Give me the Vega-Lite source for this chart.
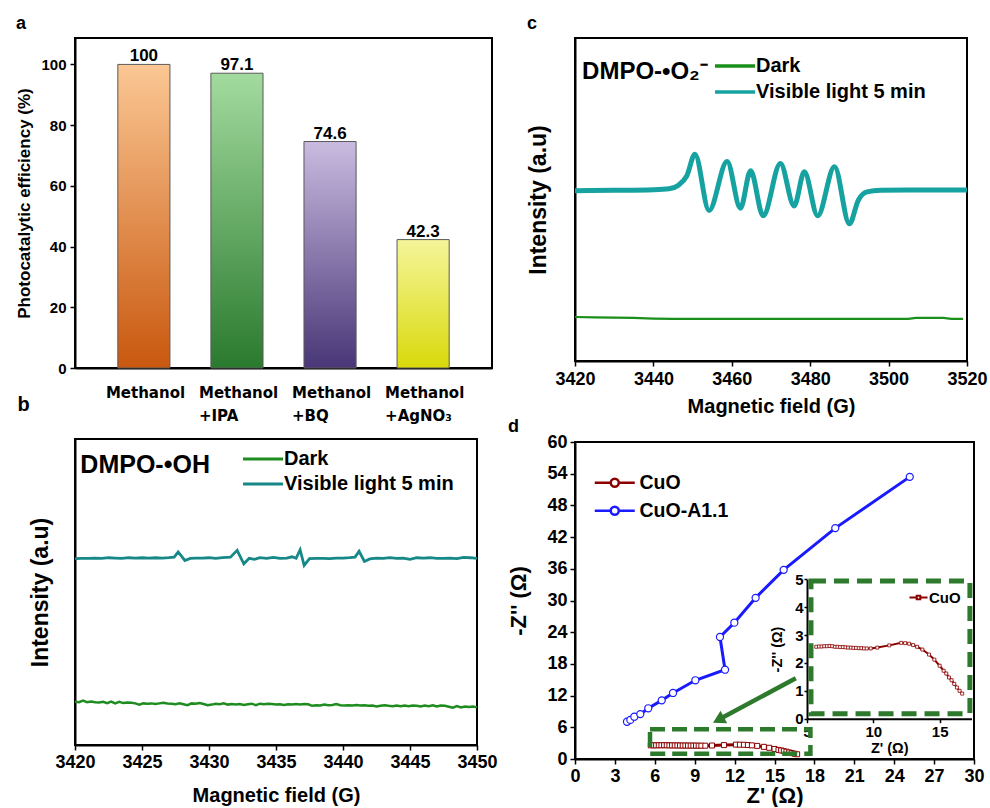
{
  "$schema": "https://vega.github.io/schema/vega-lite/v6.json",
  "background": "white",
  "padding": {"left": 14, "top": 14, "right": 2, "bottom": 0},
  "config": {
    "view": {"stroke": "black", "strokeWidth": 2},
    "font": "Liberation Sans",
    "axis": {"grid": false, "domainColor": "black", "domainWidth": 2, "tickColor": "black", "tickWidth": 1.5, "tickSize": 5, "labelColor": "black", "titleColor": "black", "labelFont": "Liberation Sans", "titleFont": "Liberation Sans", "labelFontWeight": "bold", "titleFontWeight": "bold", "labelFontSize": 18, "titleFontSize": 20, "labelOverlap": false, "labelFlush": false},
    "axisQuantitative": {"labelOverlap": false},
    "legend": {"labelFont": "Liberation Sans", "labelColor": "black", "labelFontWeight": "bold"},
    "title": {"fontSize": 18, "fontWeight": "bold", "anchor": "start", "frame": "bounds", "color": "black", "font": "Liberation Sans"}
  },
  "datasets": {
    "bar": [
      {"cat": "Methanol", "v": 100, "lab": "100"},
      {"cat": "Methanol|+IPA", "v": 97.1, "lab": "97.1"},
      {"cat": "Methanol|+BQ", "v": 74.6, "lab": "74.6"},
      {"cat": "Methanol|+AgNO₃", "v": 42.3, "lab": "42.3"}
    ],
    "bteal": [
      {"f":3420,"v":60.9},{"f":3420.5,"v":61.0},{"f":3421,"v":61.0},{"f":3421.5,"v":61.1},{"f":3422,"v":61.0},{"f":3422.5,"v":61.2},{"f":3423,"v":61.1},{"f":3423.5,"v":61.0},{"f":3424,"v":61.2},{"f":3424.5,"v":61.1},{"f":3425,"v":61.2},{"f":3425.5,"v":61.1},{"f":3426,"v":61.2},{"f":3426.5,"v":61.1},{"f":3427,"v":61.2},{"f":3427.4,"v":61.4},{"f":3427.7,"v":63.1},{"f":3428.2,"v":60.3},{"f":3428.6,"v":61.0},{"f":3429,"v":61.1},{"f":3429.5,"v":61.1},{"f":3430,"v":61.2},{"f":3430.5,"v":61.0},{"f":3431,"v":61.2},{"f":3431.6,"v":61.4},{"f":3432.1,"v":63.6},{"f":3432.6,"v":59.2},{"f":3433,"v":61.0},{"f":3433.4,"v":60.7},{"f":3433.8,"v":61.2},{"f":3434.3,"v":61.0},{"f":3434.8,"v":61.3},{"f":3435.3,"v":61.0},{"f":3435.8,"v":61.1},{"f":3436.2,"v":61.5},{"f":3436.5,"v":61.0},{"f":3436.8,"v":63.8},{"f":3437.1,"v":58.7},{"f":3437.5,"v":60.9},{"f":3438,"v":61.0},{"f":3438.5,"v":61.0},{"f":3439,"v":60.9},{"f":3439.5,"v":61.1},{"f":3440,"v":61.1},{"f":3440.5,"v":61.2},{"f":3440.9,"v":61.4},{"f":3441.2,"v":63.3},{"f":3441.6,"v":60.0},{"f":3442,"v":60.8},{"f":3442.5,"v":61.1},{"f":3443,"v":61.0},{"f":3443.5,"v":61.2},{"f":3444,"v":61.0},{"f":3444.5,"v":61.1},{"f":3445,"v":60.7},{"f":3445.5,"v":61.2},{"f":3446,"v":61.1},{"f":3446.5,"v":61.2},{"f":3447,"v":61.0},{"f":3447.5,"v":61.0},{"f":3448,"v":61.1},{"f":3448.5,"v":60.9},{"f":3449,"v":61.3},{"f":3449.5,"v":61.2},{"f":3450,"v":61.0}
    ],
    "bdark": [
      {"f":3420.0,"v":14.1},{"f":3420.3,"v":14.0},{"f":3420.6,"v":14.5},{"f":3420.9,"v":14.0},{"f":3421.2,"v":14.2},{"f":3421.5,"v":14.0},{"f":3421.8,"v":13.9},{"f":3422.1,"v":14.1},{"f":3422.4,"v":13.7},{"f":3422.7,"v":14.2},{"f":3423.0,"v":13.6},{"f":3423.3,"v":14.1},{"f":3423.6,"v":13.7},{"f":3423.9,"v":13.9},{"f":3424.2,"v":13.8},{"f":3424.5,"v":13.6},{"f":3424.8,"v":13.2},{"f":3425.1,"v":13.6},{"f":3425.4,"v":13.5},{"f":3425.7,"v":13.6},{"f":3426.0,"v":13.4},{"f":3426.3,"v":13.6},{"f":3426.6,"v":13.8},{"f":3426.9,"v":13.6},{"f":3427.2,"v":13.5},{"f":3427.5,"v":13.3},{"f":3427.8,"v":13.6},{"f":3428.1,"v":13.3},{"f":3428.4,"v":13.0},{"f":3428.7,"v":13.6},{"f":3429.0,"v":13.5},{"f":3429.3,"v":13.7},{"f":3429.6,"v":13.4},{"f":3429.9,"v":13.0},{"f":3430.2,"v":13.2},{"f":3430.5,"v":13.5},{"f":3430.8,"v":13.3},{"f":3431.1,"v":13.6},{"f":3431.4,"v":13.2},{"f":3431.7,"v":13.4},{"f":3432.0,"v":13.2},{"f":3432.3,"v":13.4},{"f":3432.6,"v":13.1},{"f":3432.9,"v":13.3},{"f":3433.2,"v":13.5},{"f":3433.5,"v":13.0},{"f":3433.8,"v":13.5},{"f":3434.1,"v":13.3},{"f":3434.4,"v":13.5},{"f":3434.7,"v":13.4},{"f":3435.0,"v":13.2},{"f":3435.3,"v":13.3},{"f":3435.6,"v":13.1},{"f":3435.9,"v":13.3},{"f":3436.2,"v":13.2},{"f":3436.5,"v":13.4},{"f":3436.8,"v":13.2},{"f":3437.1,"v":13.4},{"f":3437.4,"v":13.3},{"f":3437.7,"v":12.8},{"f":3438.0,"v":13.0},{"f":3438.3,"v":12.9},{"f":3438.6,"v":13.2},{"f":3438.9,"v":13.0},{"f":3439.2,"v":13.1},{"f":3439.5,"v":13.4},{"f":3439.8,"v":13.0},{"f":3440.1,"v":12.9},{"f":3440.4,"v":13.0},{"f":3440.7,"v":12.9},{"f":3441.0,"v":13.1},{"f":3441.3,"v":12.9},{"f":3441.6,"v":13.0},{"f":3441.9,"v":12.8},{"f":3442.2,"v":12.9},{"f":3442.5,"v":12.6},{"f":3442.8,"v":12.8},{"f":3443.1,"v":13.0},{"f":3443.4,"v":12.8},{"f":3443.7,"v":12.7},{"f":3444.0,"v":12.9},{"f":3444.3,"v":12.7},{"f":3444.6,"v":12.9},{"f":3444.9,"v":12.7},{"f":3445.2,"v":12.9},{"f":3445.5,"v":12.8},{"f":3445.8,"v":12.6},{"f":3446.1,"v":12.9},{"f":3446.4,"v":12.7},{"f":3446.7,"v":13.0},{"f":3447.0,"v":12.6},{"f":3447.3,"v":12.9},{"f":3447.6,"v":12.8},{"f":3447.9,"v":12.5},{"f":3448.2,"v":12.2},{"f":3448.5,"v":12.7},{"f":3448.8,"v":12.3},{"f":3449.1,"v":12.6},{"f":3449.4,"v":12.4},{"f":3449.7,"v":12.6},{"f":3450.0,"v":12.3}
    ],
    "cteal": [
      {"f":3420,"v":53.4},{"f":3430,"v":53.5},{"f":3440,"v":53.7},{"f":3444,"v":54.0},{"f":3446.5,"v":55.2},{"f":3448.5,"v":58.0},{"f":3450.6,"v":64.8},{"f":3454.2,"v":47.2},{"f":3458.8,"v":62.5},{"f":3462.2,"v":47.9},{"f":3464.8,"v":59.6},{"f":3468.0,"v":45.5},{"f":3472.4,"v":61.9},{"f":3475.9,"v":48.6},{"f":3478.5,"v":59.3},{"f":3481.9,"v":45.5},{"f":3486.2,"v":60.9},{"f":3490.0,"v":43.0},{"f":3492.3,"v":50.5},{"f":3494.5,"v":53.0},{"f":3498,"v":53.5},{"f":3505,"v":53.6},{"f":3520,"v":53.6}
    ],
    "cdark": [
      {"f":3420,"v":13.8},{"f":3425,"v":13.7},{"f":3430,"v":13.6},{"f":3435,"v":13.5},{"f":3440,"v":13.3},{"f":3445,"v":13.2},{"f":3460,"v":13.2},{"f":3480,"v":13.2},{"f":3500,"v":13.2},{"f":3505,"v":13.2},{"f":3507,"v":13.5},{"f":3510,"v":13.5},{"f":3514,"v":13.5},{"f":3516,"v":13.2},{"f":3519,"v":13.2}
    ],
    "cua": [
      {"k":1,"zx":3.91,"zy":7.05},{"k":2,"zx":4.16,"zy":7.4},{"k":3,"zx":4.46,"zy":8.0},{"k":4,"zx":4.91,"zy":8.5},{"k":5,"zx":5.51,"zy":9.6},{"k":6,"zx":6.52,"zy":11.1},{"k":7,"zx":7.37,"zy":12.5},{"k":8,"zx":9.05,"zy":14.9},{"k":9,"zx":11.28,"zy":16.9},{"k":10,"zx":10.9,"zy":23.1},{"k":11,"zx":11.98,"zy":25.8},{"k":12,"zx":13.58,"zy":30.5},{"k":13,"zx":15.69,"zy":35.8},{"k":14,"zx":19.57,"zy":43.7},{"k":15,"zx":25.17,"zy":53.4}
    ],
    "cuo": [
      {"zx":5.7,"zy":2.58},{"zx":5.9,"zy":2.59},{"zx":6.1,"zy":2.59},{"zx":6.3,"zy":2.6},{"zx":6.5,"zy":2.6},{"zx":6.7,"zy":2.61},{"zx":6.9,"zy":2.6},{"zx":7.1,"zy":2.58},{"zx":7.3,"zy":2.58},{"zx":7.5,"zy":2.57},{"zx":7.7,"zy":2.57},{"zx":7.9,"zy":2.56},{"zx":8.1,"zy":2.55},{"zx":8.3,"zy":2.55},{"zx":8.5,"zy":2.54},{"zx":8.7,"zy":2.54},{"zx":8.9,"zy":2.53},{"zx":9.1,"zy":2.53},{"zx":9.3,"zy":2.52},{"zx":9.5,"zy":2.52},{"zx":9.8,"zy":2.52},{"zx":10.3,"zy":2.55},{"zx":11.2,"zy":2.63},{"zx":12.1,"zy":2.72},{"zx":12.4,"zy":2.71},{"zx":12.7,"zy":2.69},{"zx":13.0,"zy":2.64},{"zx":13.3,"zy":2.58},{"zx":13.7,"zy":2.48},{"zx":14.2,"zy":2.3},{"zx":14.6,"zy":2.12},{"zx":15.0,"zy":1.9},{"zx":15.3,"zy":1.72},{"zx":15.5,"zy":1.62},{"zx":15.7,"zy":1.48},{"zx":15.9,"zy":1.38},{"zx":16.1,"zy":1.25},{"zx":16.3,"zy":1.12},{"zx":16.5,"zy":1.0},{"zx":16.7,"zy":0.9}
    ]
  },
  "spacing": 7,
  "align": "none",
  "resolve": {"scale": {"color": "independent"}, "legend": {"color": "independent"}},
  "hconcat": [
    {
      "spacing": 14,
      "align": "none",
      "resolve": {"scale": {"color": "independent"}, "legend": {"color": "independent"}},
      "vconcat": [
        {
          "title": {"text": "a", "offset": 5},
          "width": 417,
          "height": 330,
          "data": {"name": "bar"},
          "encoding": {
            "x": {"field": "cat", "type": "nominal",
              "scale": {"domain": ["Methanol", "Methanol|+IPA", "Methanol|+BQ", "Methanol|+AgNO₃"], "paddingInner": 0.44, "paddingOuter": 0.46},
              "axis": {"labelExpr": "split(datum.label, '|')", "labelAngle": 0, "labelAlign": "left", "labelOffset": -38, "labelBaseline": "top", "labelPadding": 17, "labelFont": "DejaVu Sans", "labelFontSize": 15, "labelLineHeight": 23, "ticks": false, "title": "b", "titleX": -52, "titleY": 36, "titleFontSize": 20, "titleAlign": "center", "titleBaseline": "middle", "titleAngle": 0}},
            "y": {"field": "v", "type": "quantitative", "scale": {"domain": [0, 108.7], "nice": false},
              "axis": {"values": [0, 20, 40, 60, 80, 100], "tickCount": 12, "labelFontSize": 15, "labelPadding": 4, "title": "Photocatalytic efficiency (%)", "titleFontSize": 17, "titlePadding": 7}}
          },
          "layer": [
            {"transform": [{"filter": {"field": "cat", "equal": "Methanol"}}],
             "mark": {"type": "bar", "stroke": "#5a5a5a", "strokeWidth": 1, "fill": {"gradient": "linear", "x1": 0, "y1": 0, "x2": 0, "y2": 1, "stops": [{"offset": 0, "color": "#fbc794"}, {"offset": 1, "color": "#c9580f"}]}}},
            {"transform": [{"filter": {"field": "cat", "equal": "Methanol|+IPA"}}],
             "mark": {"type": "bar", "stroke": "#5a5a5a", "strokeWidth": 1, "fill": {"gradient": "linear", "x1": 0, "y1": 0, "x2": 0, "y2": 1, "stops": [{"offset": 0, "color": "#a3db9f"}, {"offset": 1, "color": "#2a7a2e"}]}}},
            {"transform": [{"filter": {"field": "cat", "equal": "Methanol|+BQ"}}],
             "mark": {"type": "bar", "stroke": "#5a5a5a", "strokeWidth": 1, "fill": {"gradient": "linear", "x1": 0, "y1": 0, "x2": 0, "y2": 1, "stops": [{"offset": 0, "color": "#c9bbe0"}, {"offset": 1, "color": "#483677"}]}}},
            {"transform": [{"filter": {"field": "cat", "equal": "Methanol|+AgNO₃"}}],
             "mark": {"type": "bar", "stroke": "#5a5a5a", "strokeWidth": 1, "fill": {"gradient": "linear", "x1": 0, "y1": 0, "x2": 0, "y2": 1, "stops": [{"offset": 0, "color": "#f5f59a"}, {"offset": 1, "color": "#d9d90c"}]}}},
            {"mark": {"type": "text", "baseline": "alphabetic", "dy": -3, "fontSize": 17, "fontWeight": "bold", "color": "black", "font": "Liberation Sans"},
             "encoding": {"text": {"field": "lab"}}}
          ]
        },
        {
          "width": 402,
          "height": 306,
          "layer": [
            {"data": {"name": "bdark"}, "mark": {"type": "line", "strokeWidth": 2.5},
             "encoding": {
               "x": {"field": "f", "type": "quantitative", "scale": {"domain": [3420, 3450], "nice": false, "zero": false},
                 "axis": {"values": [3420, 3425, 3430, 3435, 3440, 3445, 3450], "tickCount": 12, "format": "d", "labelPadding": 3, "title": "Magnetic field (G)", "titlePadding": 14}},
               "y": {"field": "v", "type": "quantitative", "scale": {"domain": [0, 100], "nice": false},
                 "axis": {"labels": false, "ticks": false, "title": "Intensity (a.u)", "titleFontSize": 23, "titlePadding": 23}},
               "color": {"datum": "Dark", "type": "nominal",
                 "scale": {"domain": ["Dark", "Visible light 5 min"], "range": ["#1e8c1e", "#178888"]},
                 "legend": {"title": null, "orient": "none", "legendX": 178, "legendY": 10, "padding": 0, "labelFontSize": 20, "labelOffset": 11, "labelLimit": 300, "symbolType": "M-5,0H5", "symbolSize": 64, "symbolStrokeWidth": 3, "rowPadding": 5}}}},
            {"data": {"name": "bteal"}, "mark": {"type": "line", "strokeWidth": 2.8},
             "encoding": {"x": {"field": "f", "type": "quantitative"}, "y": {"field": "v", "type": "quantitative"}, "color": {"datum": "Visible light 5 min", "type": "nominal"}}},
            {"data": {"values": [{}]},
             "mark": {"type": "text", "text": "DMPO-•OH", "align": "left", "baseline": "middle", "fontSize": 25, "fontWeight": "bold", "font": "Liberation Sans", "color": "black"},
             "encoding": {"x": {"datum": 3420.4, "type": "quantitative"}, "y": {"datum": 91.5, "type": "quantitative"}}}
          ]
        }
      ]
    },
    {
      "spacing": 0,
      "align": "none",
      "resolve": {"scale": {"color": "independent"}, "legend": {"color": "independent"}},
      "vconcat": [
        {
          "title": {"text": "c", "offset": 5},
          "width": 392,
          "height": 323,
          "layer": [
            {"data": {"name": "cdark"}, "mark": {"type": "line", "strokeWidth": 2.2},
             "encoding": {
               "x": {"field": "f", "type": "quantitative", "scale": {"domain": [3420, 3520], "nice": false, "zero": false},
                 "axis": {"values": [3420, 3440, 3460, 3480, 3500, 3520], "tickCount": 12, "format": "d", "labelPadding": 4, "title": "Magnetic field (G)", "titlePadding": 8}},
               "y": {"field": "v", "type": "quantitative", "scale": {"domain": [0, 101.25], "nice": false},
                 "axis": {"labels": false, "ticks": false, "title": "Intensity (a.u)", "titleFontSize": 23, "titlePadding": 25}},
               "color": {"datum": "Dark", "type": "nominal",
                 "scale": {"domain": ["Dark", "Visible light 5 min"], "range": ["#1a8f1a", "#17a2a2"]},
                 "legend": {"title": null, "orient": "none", "legendX": 150, "legendY": 18, "padding": 0, "labelFontSize": 20, "labelOffset": 11, "labelLimit": 300, "symbolType": "M-5,0H5", "symbolSize": 64, "symbolStrokeWidth": 3.5, "rowPadding": 6}}}},
            {"data": {"name": "cteal"}, "mark": {"type": "line", "strokeWidth": 5, "interpolate": "monotone"},
             "encoding": {"x": {"field": "f", "type": "quantitative"}, "y": {"field": "v", "type": "quantitative"}, "color": {"datum": "Visible light 5 min", "type": "nominal"}}},
            {"data": {"values": [{}]},
             "mark": {"type": "text", "text": "DMPO-•O₂⁻", "align": "left", "baseline": "middle", "fontSize": 24, "fontWeight": "bold", "font": "Liberation Sans", "color": "black"},
             "encoding": {"x": {"datum": 3421.8, "type": "quantitative"}, "y": {"datum": 90.6, "type": "quantitative"}}}
          ]
        },
        {
          "title": {"text": "d", "offset": -3},
          "width": 399,
          "height": 317,
          "layer": [
            {
              "layer": [
                {"data": {"name": "cua"}, "mark": {"type": "line", "strokeWidth": 3},
                 "encoding": {
                   "x": {"field": "zx", "type": "quantitative", "scale": {"domain": [0, 30], "nice": false},
                     "axis": {"orient": "bottom", "values": [0, 3, 6, 9, 12, 15, 18, 21, 24, 27, 30], "tickCount": 20, "labelOverlap": false, "labelFlush": false, "labelPadding": 3, "title": "Z' (Ω)", "titleFontSize": 22, "titlePadding": 0}},
                   "y": {"field": "zy", "type": "quantitative", "scale": {"domain": [0, 60], "nice": false},
                     "axis": {"orient": "left", "values": [0, 6, 12, 18, 24, 30, 36, 42, 48, 54, 60], "tickCount": 20, "labelOverlap": false, "labelFlush": false, "labelPadding": 3, "title": "-Z'' (Ω)", "titleFontSize": 22, "titlePadding": 16}},
                   "order": {"field": "k"},
                   "stroke": {"datum": "CuO-A1.1", "type": "nominal",
                     "scale": {"domain": ["CuO", "CuO-A1.1"], "range": ["#8b0000", "#1a1aff"]},
                     "legend": {"title": null, "orient": "none", "legendX": 30, "legendY": 31, "padding": 0, "labelFontSize": 19.5, "labelOffset": 15, "symbolType": "M-5,0H-1M1,0H5M-1,0A1,1,0,1,1,1,0A1,1,0,1,1,-1,0Z", "symbolSize": 64, "symbolStrokeWidth": 2.5, "symbolFillColor": "white", "rowPadding": 7}}}},
                {"data": {"name": "cua"}, "mark": {"type": "point", "shape": "circle", "size": 50, "filled": true, "fill": "white", "strokeWidth": 1.2, "opacity": 1},
                 "encoding": {"x": {"field": "zx", "type": "quantitative"}, "y": {"field": "zy", "type": "quantitative"}, "stroke": {"datum": "CuO-A1.1", "type": "nominal"}}},
                {"data": {"name": "cuo"}, "mark": {"type": "line", "strokeWidth": 3},
                 "encoding": {"x": {"field": "zx", "type": "quantitative"}, "y": {"field": "zy", "type": "quantitative"}, "stroke": {"datum": "CuO", "type": "nominal"}}},
                {"data": {"name": "cuo"}, "mark": {"type": "point", "shape": "square", "size": 25, "filled": true, "fill": "white", "strokeWidth": 1, "opacity": 1},
                 "encoding": {"x": {"field": "zx", "type": "quantitative"}, "y": {"field": "zy", "type": "quantitative"}, "stroke": {"datum": "CuO", "type": "nominal"}}},
                {"data": {"values": [{}]}, "mark": {"type": "rect", "fill": "transparent", "stroke": "#2d7a2d", "strokeWidth": 4.5, "strokeDash": [15, 7]},
                 "encoding": {"x": {"datum": 5.64, "type": "quantitative"}, "x2": {"datum": 17.7}, "y": {"datum": 1.0, "type": "quantitative"}, "y2": {"datum": 5.62}}},
                {"data": {"values": [{}]}, "mark": {"type": "rule", "stroke": "#2d7a2d", "strokeWidth": 4.5},
                 "encoding": {"x": {"datum": 16.6, "type": "quantitative"}, "y": {"datum": 15.3, "type": "quantitative"}, "x2": {"datum": 10.92}, "y2": {"datum": 7.6}}},
                {"data": {"values": [{}]}, "mark": {"type": "point", "shape": "triangle", "size": 200, "filled": true, "color": "#2d7a2d", "angle": 242, "opacity": 1},
                 "encoding": {"x": {"datum": 10.92, "type": "quantitative"}, "y": {"datum": 7.6, "type": "quantitative"}}}
              ]
            },
            {
              "layer": [
                {"data": {"name": "cuo"}, "mark": {"type": "line", "strokeWidth": 2},
                 "encoding": {
                   "x": {"field": "zx", "type": "quantitative", "scale": {"domain": [5, 17.4], "range": [232, 396.5], "nice": false, "zero": false},
                     "axis": {"orient": "bottom", "offset": -40.3, "values": [5, 10, 15], "tickCount": 12, "format": "d", "tickSize": 4, "labelFontSize": 15, "labelPadding": 2, "title": "Z' (Ω)", "titleFontSize": 14.5, "titlePadding": 2}},
                   "y": {"field": "zy", "type": "quantitative", "scale": {"domain": [0, 5], "range": [276.7, 137.3], "nice": false},
                     "axis": {"orient": "left", "offset": -232, "values": [0, 1, 2, 3, 4, 5], "tickCount": 12, "format": "d", "tickSize": 3, "labelFontSize": 15, "labelPadding": 1, "title": "-Z'' (Ω)", "titleFontSize": 14.5, "titlePadding": 10}},
                   "stroke": {"datum": "CuO", "type": "nominal",
                     "scale": {"domain": ["CuO"], "range": ["#8b0000"]},
                     "legend": {"title": null, "orient": "none", "legendX": 336, "legendY": 148, "padding": 0, "labelFontSize": 15, "labelOffset": 3, "symbolType": "M-5,0H-1M1,0H5M-1,-1H1V1H-1Z", "symbolSize": 13, "symbolStrokeWidth": 2, "symbolFillColor": "white"}}}},
                {"data": {"name": "cuo"}, "mark": {"type": "point", "shape": "square", "size": 9, "filled": true, "fill": "white", "strokeWidth": 0.8, "opacity": 1},
                 "encoding": {"x": {"field": "zx", "type": "quantitative"}, "y": {"field": "zy", "type": "quantitative"}, "stroke": {"datum": "CuO", "type": "nominal"}}},
                {"data": {"values": [{}]}, "mark": {"type": "rect", "fill": "transparent", "stroke": "#2d7a2d", "strokeWidth": 5, "strokeDash": [15, 8]},
                 "encoding": {"x": {"datum": 5.3, "type": "quantitative"}, "x2": {"datum": 17.28}, "y": {"datum": 0.18, "type": "quantitative"}, "y2": {"datum": 4.94}}}
              ]
            }
          ],
          "resolve": {
            "scale": {"x": "independent", "y": "independent", "stroke": "independent"},
            "axis": {"x": "independent", "y": "independent"},
            "legend": {"stroke": "independent"}
          }
        }
      ]
    }
  ]
}
